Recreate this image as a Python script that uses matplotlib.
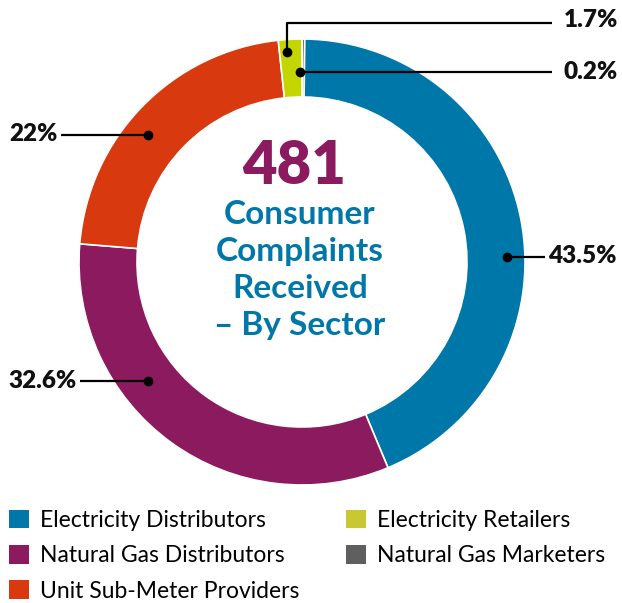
import matplotlib.pyplot as plt
from matplotlib.patches import Patch

# data (clockwise from 12 o'clock)
sectors = ["Natural Gas Marketers", "Electricity Distributors", "Natural Gas Distributors",
           "Unit Sub-Meter Providers", "Electricity Retailers"]
shares = [0.2, 43.5, 32.6, 22.0, 1.7]
share_labels = ["0.2%", "43.5%", "32.6%", "22%", "1.7%"]
colors = ["#5f5f5f", "#0077a9", "#8c1a5e", "#d9390f", "#c4d600"]
legend_order = ["Electricity Distributors", "Natural Gas Distributors", "Unit Sub-Meter Providers",
                "Electricity Retailers", "Natural Gas Marketers"]
legend_colors = {"Electricity Distributors": "#0077a9", "Natural Gas Distributors": "#8c1a5e",
                 "Unit Sub-Meter Providers": "#d9390f", "Electricity Retailers": "#c9c832",
                 "Natural Gas Marketers": "#5f5f5f"}
total = 481

W, H = 622, 603
fig = plt.figure(figsize=(W / 100, H / 100), dpi=100)
ax = fig.add_axes([0, 0, 1, 1])

cx, cy, R = 302, H - 262, 223
ax.pie(shares, colors=colors, startangle=90, counterclock=False, radius=R, center=(cx, cy),
       wedgeprops=dict(width=58, edgecolor="white", linewidth=1.2), frame=True)
ax.set_xlim(0, W)
ax.set_ylim(0, H)
ax.set_aspect("equal")
ax.axis("off")

font = "Lato"

# leader lines: line path and text anchor, in pixels from top-left
leaders = {
    "0.2%": ([(300, 72), (552, 72)], (618, 72)),
    "43.5%": ([(507, 257), (545, 257)], (617, 256)),
    "32.6%": ([(148, 381), (80, 381)], (77, 381)),
    "22%": ([(148, 135), (61, 135)], (58, 134)),
    "1.7%": ([(287, 52), (287, 23), (552, 23)], (618, 20)),
}
for lab in share_labels:
    pts, (tx, ty) = leaders[lab]
    xs = [p[0] for p in pts]
    ys = [H - p[1] for p in pts]
    ax.plot(xs, ys, color="black", lw=1.6, solid_capstyle="butt")
    ax.plot(xs[0], ys[0], "o", color="black", ms=6)
    ax.text(tx, H - ty, lab, ha="right", va="center", fontsize=17.5, fontweight="heavy",
            family=font, color="#111111")

# center text
ax.text(cx - 8, H - 166, str(total), ha="center", va="center", fontsize=43,
        fontweight="heavy", family=font, color="#8c1a5e")
for i, line in enumerate(["Consumer", "Complaints", "Received", "\u2013 By Sector"]):
    ax.text(cx - 2, H - (215 + 37 * i), line, ha="center", va="center", fontsize=24,
            fontweight="bold", family=font, color="#0077a9")

handles = [Patch(facecolor=legend_colors[s], edgecolor="none") for s in legend_order]
ax.legend(handles, legend_order, ncol=2, loc="upper left", bbox_to_anchor=(4 / W, 1 - 505 / H),
          bbox_transform=fig.transFigure, frameon=False, prop={"family": font, "size": 16.5},
          handlelength=0.87, handleheight=0.87, handletextpad=0.48, columnspacing=2.05,
          labelspacing=0.62, borderaxespad=0, borderpad=0.2)

fig.savefig("out.png", dpi=100)
